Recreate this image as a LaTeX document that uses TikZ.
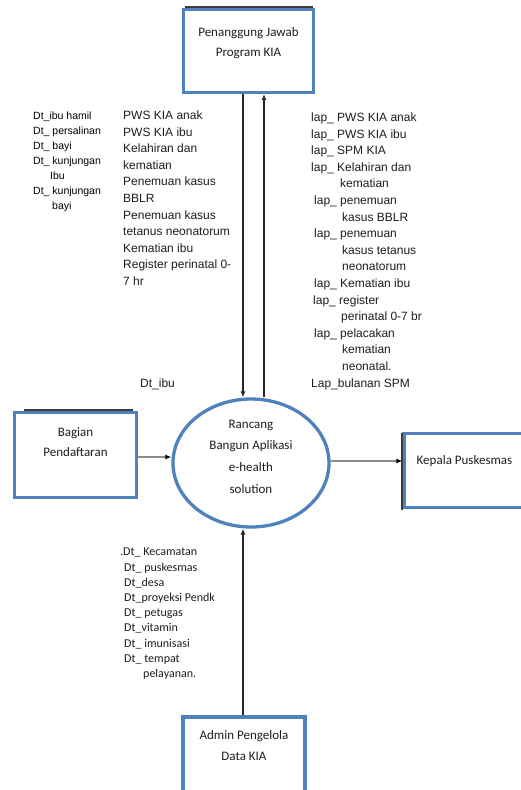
\documentclass[tikz,border=0pt]{standalone}
\usepackage{fontspec}
\setmainfont{Liberation Sans}
\newfontfamily\calib{Carlito}
\usetikzlibrary{shapes.geometric,arrows.meta}
\definecolor{kiablue}{RGB}{79,129,189}
\definecolor{edgegray}{RGB}{60,60,60}
\definecolor{flowgray}{RGB}{140,140,140}
\definecolor{inkdark}{RGB}{30,30,30}
\begin{document}
\begin{tikzpicture}[x=1pt,y=-1pt,
  entity/.style={draw=kiablue, line width=3.2pt, fill=white, rectangle, inner sep=0pt},
  process/.style={draw=kiablue, line width=3.3pt, fill=white, ellipse, inner sep=0pt,
    minimum width=156pt, minimum height=128pt},
  boxtext/.style={font=\calib\fontsize{13}{20.5}\selectfont, align=center, text=inkdark, inner sep=0pt},
  flowlist/.style={font=\fontsize{12}{16.6}\selectfont, align=left, anchor=north west, text=inkdark, inner sep=0pt},
  smalllist/.style={font=\fontsize{10.5}{15}\selectfont, align=left, anchor=north west, text=black, inner sep=0pt},
  datalist/.style={font=\calib\fontsize{12}{15.2}\selectfont, align=left, anchor=north west, text=inkdark, inner sep=0pt},
  flow/.style={draw=black!85, line width=1.1pt, -{Latex[length=6pt,width=5pt]}},
  sideflow/.style={draw=flowgray, line width=1.6pt, -{Latex[length=6pt,width=5pt,color=black]}},
  shade/.style={draw=edgegray, line width=2pt}
]
\useasboundingbox (0,0) rectangle (521,790);
\clip (0,0) rectangle (521,790);
\fill[white] (0,0) rectangle (521,790);

% external entities and the process
\draw[shade] (185,7) -- (313,7);
\node[entity, minimum width=130pt, minimum height=83pt] (pj) at (248.5,51) {};
\draw[shade] (24,409.5) -- (133,409.5);
\node[entity, minimum width=122pt, minimum height=85pt] (bp) at (75.5,455) {};
\node[entity, minimum width=122pt, minimum height=74pt] (kp) at (465,470.5) {};
\draw[shade] (402,433) -- (402,510);
\node[entity, minimum width=122pt, minimum height=90pt] (adm) at (244,762) {};
\node[process] (ell) at (251,463) {};

% entity and process labels
\node[boxtext] (pjt) at (248.5,43) {Penanggung Jawab\\Program KIA};
\node[boxtext] (bpt) at (75.5,442) {Bagian\\Pendaftaran};
\node[boxtext] (kpt) at (464.5,461) {Kepala Puskesmas};
\node[boxtext] (admt) at (244,745.5) {Admin Pengelola\\Data KIA};
\node[boxtext, font=\calib\fontsize{13}{21.6}\selectfont] (ellt) at (251,456.5)
  {Rancang\\Bangun Aplikasi\\e-health\\solution};

% connector columns
\coordinate (xa) at (243,0);
\coordinate (xb) at (264,0);
\coordinate (ya) at (0,457);
\coordinate (yb) at (0,461);

% data flows
\draw[flow] (pj.south -| xa) -- (ell.north -| xa);
\draw[flow] (ell.north -| xb) -- (pj.south -| xb);
\draw[sideflow] (bp.east |- ya) -- (ell.west |- ya);
\draw[sideflow] (ell.east |- yb) -- (kp.west |- yb);
\draw[flow] (adm.north -| xa) -- (ell.south -| xa);

% flow labels
\node[smalllist] (dtl) at (33,112) {Dt\_ibu hamil\\Dt\_ persalinan\\Dt\_ bayi\\Dt\_ kunjungan\\\hspace*{17pt}Ibu\\Dt\_ kunjungan\\\hspace*{19pt}bayi};
\node[flowlist] (pws) at (123,110.6) {PWS KIA anak\\PWS KIA ibu\\Kelahiran dan\\kematian\\Penemuan kasus\\BBLR\\Penemuan kasus\\tetanus neonatorum\\Kematian ibu\\Register perinatal 0-\\7 hr};
\node[flowlist] (lap) at (311,112.6) {lap\_ PWS KIA anak\\lap\_ PWS KIA ibu\\lap\_ SPM KIA\\lap\_ Kelahiran dan\\\hspace*{29pt}kematian\\\hspace*{3pt}lap\_ penemuan\\\hspace*{31pt}kasus BBLR\\\hspace*{3pt}lap\_ penemuan\\\hspace*{31pt}kasus tetanus\\\hspace*{31pt}neonatorum\\\hspace*{3pt}lap\_ Kematian ibu\\\hspace*{2pt}lap\_ register\\\hspace*{30pt}perinatal 0-7 br\\\hspace*{3pt}lap\_ pelacakan\\\hspace*{31pt}kematian\\\hspace*{31pt}neonatal.\\Lap\_bulanan SPM};
\node[flowlist, anchor=west] (dtibu) at (140,384) {Dt\_ibu};
\node[datalist] (dtk) at (120,548) {.Dt\_ Kecamatan\\\hspace*{4pt}Dt\_ puskesmas\\\hspace*{4pt}Dt\_desa\\\hspace*{4pt}Dt\_proyeksi Pendk\\\hspace*{4pt}Dt\_ petugas\\\hspace*{4pt}Dt\_vitamin\\\hspace*{4pt}Dt\_ imunisasi\\\hspace*{4pt}Dt\_ tempat\\\hspace*{23pt}pelayanan.};
\end{tikzpicture}
\end{document}
